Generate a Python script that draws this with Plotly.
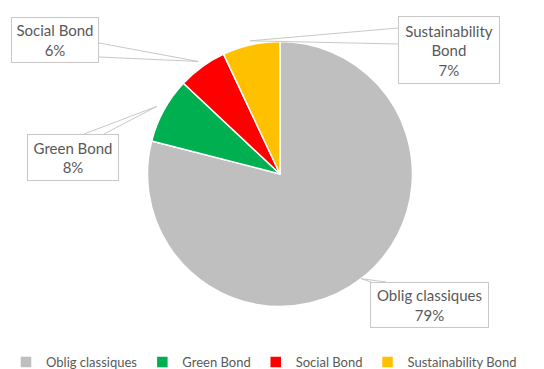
import math
import plotly.graph_objects as go

labels = ["Oblig classiques", "Green Bond", "Social Bond", "Sustainability Bond"]
values = [79, 8, 6, 7]
colors = ["#BFBFBF", "#00B050", "#FF0000", "#FFC000"]
callout_text = ["Oblig classiques", "Green Bond", "Social Bond", "Sustainability<br>Bond"]

W, H = 544, 369
# pie placement (pixels)
cx, cy, r = 280, 174, 132.5

# callout boxes: left, top, width, height (pixels)
boxes = [(370, 282, 119, 46), (27, 134, 92, 47), (11, 17, 88, 46), (398, 16, 102, 68)]
# wedge base points on box edge (pixels)
bases = [((371, 282), (386, 282)), ((84, 134), (104, 134)), ((99, 43), (99, 57)), ((398, 28), (398, 44))]
tipk = [1.0, 1.06, 1.05, 1.03]

def px(x):
    return x / W

def py(y):
    return 1 - y / H

fig = go.Figure(go.Pie(
    labels=labels, values=values, sort=False, direction="clockwise", rotation=0,
    marker=dict(colors=colors, line=dict(color="white", width=1.5)),
    textinfo="none", hoverinfo="label+percent",
    domain=dict(x=[px(cx - r), px(cx + r)], y=[py(cy + r), py(cy - r)]),
))

total = sum(values)
cum = 0
shapes = []
annotations = []
for i, v in enumerate(values):
    mid = (cum + v / 2) / total * 2 * math.pi
    cum += v
    tx = cx + r * tipk[i] * math.sin(mid)
    ty = cy - r * tipk[i] * math.cos(mid)
    (b1x, b1y), (b2x, b2y) = bases[i]
    shapes.append(dict(
        type="path", xref="paper", yref="paper",
        path=f"M{px(b1x)},{py(b1y)} L{px(tx)},{py(ty)} L{px(b2x)},{py(b2y)}",
        line=dict(color="#C8C8C8", width=1), layer="above",
    ))
    bx, by, bw, bh = boxes[i]
    pct = f"{v / total * 100:.0f}%"
    annotations.append(dict(
        x=px(bx), y=py(by), xref="paper", yref="paper", xanchor="left", yanchor="top",
        text=f"{callout_text[i]}<br>{pct}", showarrow=False,
        width=bw - 2, height=bh - 2, borderpad=0, align="center", valign="middle",
        bordercolor="#C8C8C8", borderwidth=1, bgcolor="white",
        font=dict(family="Lato, Open Sans, sans-serif", size=15, color="#595959"),
    ))

fig.update_layout(
    width=W, height=H, margin=dict(l=0, r=0, t=0, b=0, autoexpand=False),
    paper_bgcolor="white", plot_bgcolor="white",
    shapes=shapes, annotations=annotations,
    showlegend=True,
    legend=dict(orientation="h", x=px(6), y=py(347), xanchor="left", yanchor="top",
                font=dict(family="Lato, Open Sans, sans-serif", size=13, color="#595959"),
                itemwidth=30, traceorder="normal"),
)
fig.write_html("out.html", config={"displayModeBar": False},
               post_script="document.body.style.margin='0';")
